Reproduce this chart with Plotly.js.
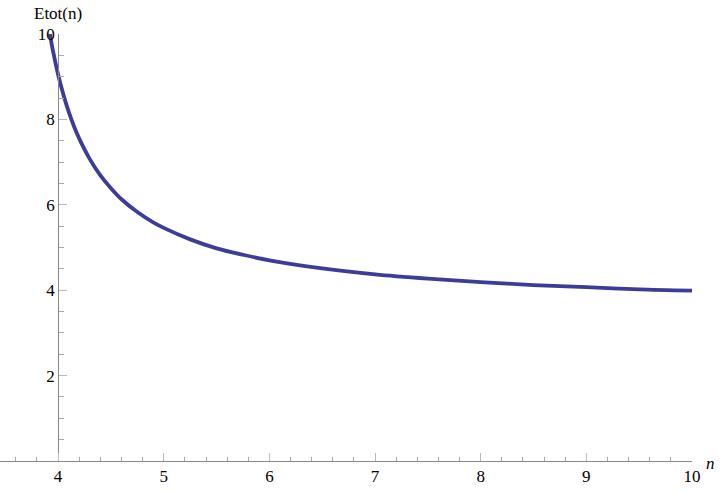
<!DOCTYPE html>
<html>
<head>
<meta charset="utf-8">
<script src="https://cdn.plot.ly/plotly-3.0.1.min.js"></script>
<style>
  html, body { margin: 0; padding: 0; background: #fff; }
  #myPlot { width: 720px; height: 492px; }
</style>
</head>
<body>
<div id="myPlot"></div>
<script>
// values
const nValues = [3.922, 3.95, 4.0, 4.05, 4.1, 4.15, 4.2, 4.3, 4.4, 4.5, 4.6, 4.75, 4.9,
                 5.0, 5.25, 5.5, 5.75, 6.0, 6.5, 7.0, 7.5, 8.0, 8.5, 9.0, 9.5, 10.0];
const eValues = [10.0, 9.62, 9.05, 8.58, 8.18, 7.84, 7.55, 7.07, 6.69, 6.39, 6.13, 5.83, 5.59,
                 5.46, 5.19, 4.98, 4.83, 4.70, 4.51, 4.37, 4.27, 4.19, 4.12, 4.07, 4.02, 3.99];
const xTicks = [4, 5, 6, 7, 8, 9, 10];
const yTicks = [2, 4, 6, 8, 10];

const xMin = 3.45, xMax = 10;
const serif = "Liberation Serif";
const yAxisPos = (4 - xMin) / (xMax - xMin);

const data = [{
    x: nValues,
    y: eValues,
    mode: "lines",
    type: "scatter",
    line: { color: "#3d3d99", width: 3.8, shape: "spline", smoothing: 0.8 },
    hoverinfo: "skip"
}];

const layout = {
    width: 720,
    height: 492,
    margin: { l: 0, r: 28, t: 34, b: 30.5 },
    paper_bgcolor: "#fff",
    plot_bgcolor: "#fff",
    showlegend: false,
    font: { family: serif, size: 17, color: "#000" },
    xaxis: {
        range: [xMin, xMax],
        tickvals: xTicks,
        ticks: "inside",
        ticklen: 8,
        tickcolor: "#bbb",
        tickwidth: 1,
        showline: true,
        linecolor: "#888",
        linewidth: 1,
        showgrid: false,
        zeroline: false,
        minor: { dtick: 0.2, tick0: 0, ticks: "inside", ticklen: 4.5, tickcolor: "#aaa", showgrid: false },
        tickfont: { family: serif, size: 17, color: "#000" }
    },
    yaxis: {
        range: [0, 10],
        anchor: "free",
        position: yAxisPos,
        tickvals: yTicks,
        ticks: "inside",
        ticklen: 8,
        tickcolor: "#bbb",
        tickwidth: 1,
        showline: true,
        linecolor: "#888",
        linewidth: 1,
        showgrid: false,
        zeroline: false,
        minor: { dtick: 0.5, tick0: 0, ticks: "inside", ticklen: 4.5, tickcolor: "#aaa", showgrid: false },
        tickfont: { family: serif, size: 17, color: "#000" }
    },
    annotations: [
        { text: "Etot(n)", xref: "paper", yref: "paper", x: yAxisPos, y: 1, yshift: 21,
          xanchor: "center", yanchor: "middle", showarrow: false,
          font: { family: serif, size: 17, color: "#000" } },
        { text: "<i>n</i>", xref: "paper", yref: "paper", x: 1, y: 0, xshift: 18, yshift: -2,
          xanchor: "center", yanchor: "middle", showarrow: false,
          font: { family: serif, size: 17, color: "#000" } }
    ]
};

Plotly.newPlot("myPlot", data, layout, { displayModeBar: false, staticPlot: true });
</script>
</body>
</html>
